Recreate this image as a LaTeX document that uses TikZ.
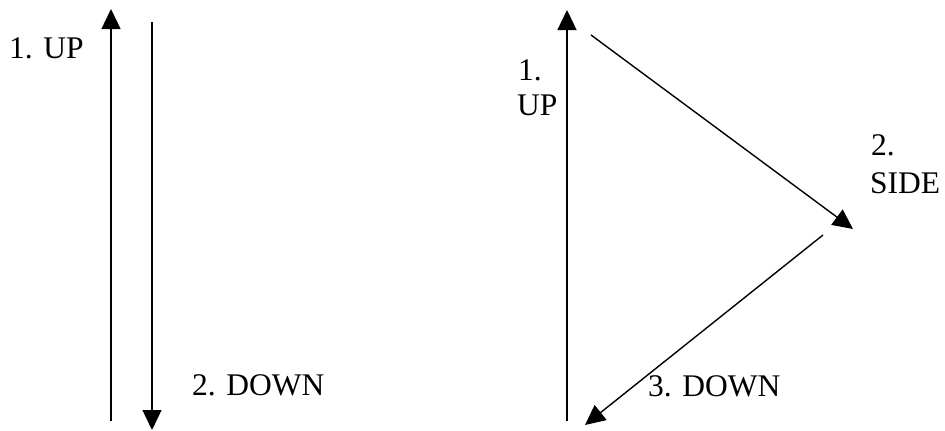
\documentclass[tikz,border=0pt]{standalone}
\usepackage{fontspec}
\setmainfont{Liberation Serif}
\usetikzlibrary{arrows.meta}
\begin{document}
\begin{tikzpicture}[x=1pt,y=-1pt,
  conn/.style={line width=1.4pt,-{Triangle[length=20pt,width=19pt]}},
  lbl/.style={inner sep=0pt,anchor=base west,font=\fontsize{31.5}{36}\selectfont}]
\useasboundingbox (0,0) rectangle (945,431);
% left diagram
\coordinate (a0) at (111,421);
\coordinate (a1) at (111,9);
\coordinate (b0) at (152,22);
\coordinate (b1) at (152,430);
\draw[conn] (a0) -- (a1);
\draw[conn] (b0) -- (b1);
\node[lbl] (lup) at (9,58) {1. UP};
\node[lbl] (ldown) at (192,395) {2. DOWN};
% right diagram
\coordinate (c0) at (567,421);
\coordinate (c1) at (567,10);
\coordinate (d0) at (591,35);
\coordinate (d1) at (853,229);
\coordinate (e0) at (823,235);
\coordinate (e1) at (585,425);
\draw[conn] (c0) -- (c1);
\draw[conn] (d0) -- (d1);
\draw[conn] (e0) -- (e1);
\node[lbl] (rup1) at (518,80) {1.};
\node[lbl] (rup2) at (517,115) {UP};
\node[lbl] (rside1) at (871,155) {2.};
\node[lbl] (rside2) at (870,193) {SIDE};
\node[lbl] (rdown) at (648,396) {3. DOWN};
\end{tikzpicture}
\end{document}
